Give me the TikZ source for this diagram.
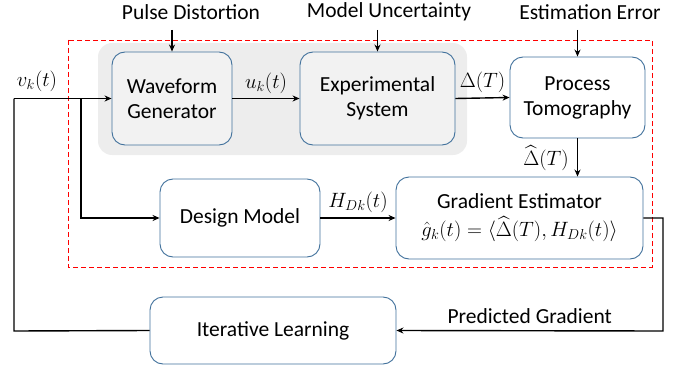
\documentclass[tikz,border=0pt]{standalone}
\usepackage{fontspec}
\setmainfont{Carlito}
\usepackage{amsmath}
\usetikzlibrary{arrows.meta}
\definecolor{boxline}{RGB}{65,113,156}
\definecolor{bggray}{RGB}{237,237,237}
\definecolor{boxfill}{RGB}{242,242,242}
\newcommand\mth[1]{{\fontsize{22.5}{26}\selectfont$#1$}}
\newcommand\mths[1]{{\fontsize{21}{25}\selectfont$#1$}}
\tikzset{
  blk/.style={draw=boxline, line width=0.9pt, rounded corners=13pt, align=center, inner sep=0pt},
  conn/.style={line width=1.4pt, -{Stealth[length=7pt,width=6pt]}},
  plain/.style={line width=1.4pt},
  lbl/.style={inner sep=1pt}
}
\begin{document}
\begin{tikzpicture}[x=1pt,y=-1pt, font=\fontsize{21.5}{25}\selectfont]
\useasboundingbox (0,0) rectangle (685,369);
% gray background
\fill[bggray, rounded corners=14pt] (98,43) rectangle (467,155);
% red dashed frame
\draw[red, line width=0.9pt, dash pattern=on 5pt off 3pt] (68,40) rectangle (652,267);
% boxes
\node[blk, fill=boxfill, minimum width=120pt, minimum height=93pt] (wg) at (172,98.5) {Waveform\\Generator};
\node[blk, fill=boxfill, minimum width=155pt, minimum height=93pt] (es) at (377.5,98.5) {Experimental\\System};
\node[blk, fill=white, minimum width=135pt, minimum height=81pt] (pt) at (577.5,97.5) {Process\\Tomography};
\node[blk, fill=white, minimum width=160pt, minimum height=78pt] (dm) at (240,218) {Design Model};
\node[blk, fill=white, minimum width=247pt, minimum height=82pt] (ge) at (519.5,218) {Gradient Estimator\\[3pt] \mths{\hat{g}_k(t)=\langle\widehat{\Delta}(T),H_{Dk}(t)\rangle}};
\node[blk, fill=white, minimum width=246pt, minimum height=67pt] (il) at (273,330.5) {Iterative Learning};
% top labels
\node[lbl] (pd) at (191,12) {Pulse Distortion};
\node[lbl] (mu) at (389,12) {Model Uncertainty};
\node[lbl] (ee) at (590,12) {Estimation Error};
\coordinate (pdA) at (172,30);
\coordinate (muA) at (377.5,30);
\coordinate (eeA) at (577.5,30);
\draw[conn] (pdA) -- (wg.north);
\draw[conn] (muA) -- (es.north);
\draw[conn] (eeA) -- (pt.north);
% main path
\coordinate (loopL) at (14,331);
\coordinate (inL) at (14,98.5);
\coordinate (br) at (81,98.5);
\coordinate (brD) at (81,218);
\draw[conn] (inL) -- (wg.west);
\draw[plain] (il.west) -- (loopL) -- (inL);
\draw[conn] (br) -- (brD) -- (dm.west);
\node[lbl] (vk) at (37,81) {\mth{v_k(t)}};
\draw[conn] (wg.east) -- node[above=1pt] {\mth{u_k(t)}} (es.west);
\draw[conn] (es.east) -- node[above=1pt] {\mths{\Delta(T)}} (pt.west);
\draw[conn] (pt.south) -- (ge.north -| pt.south);
\node[lbl] (dh) at (546,158) {\mths{\widehat{\Delta}(T)}};
\draw[conn] (dm.east) -- node[above=1pt] {\mth{H_{Dk}(t)}} (ge.west);
\coordinate (gr1) at (663,218);
\coordinate (gr2) at (663,331);
\draw[conn] (ge.east) -- (gr1) -- (gr2) -- node[above=3pt, pos=0.5] (pg) {Predicted Gradient} (il.east);
\end{tikzpicture}
\end{document}
